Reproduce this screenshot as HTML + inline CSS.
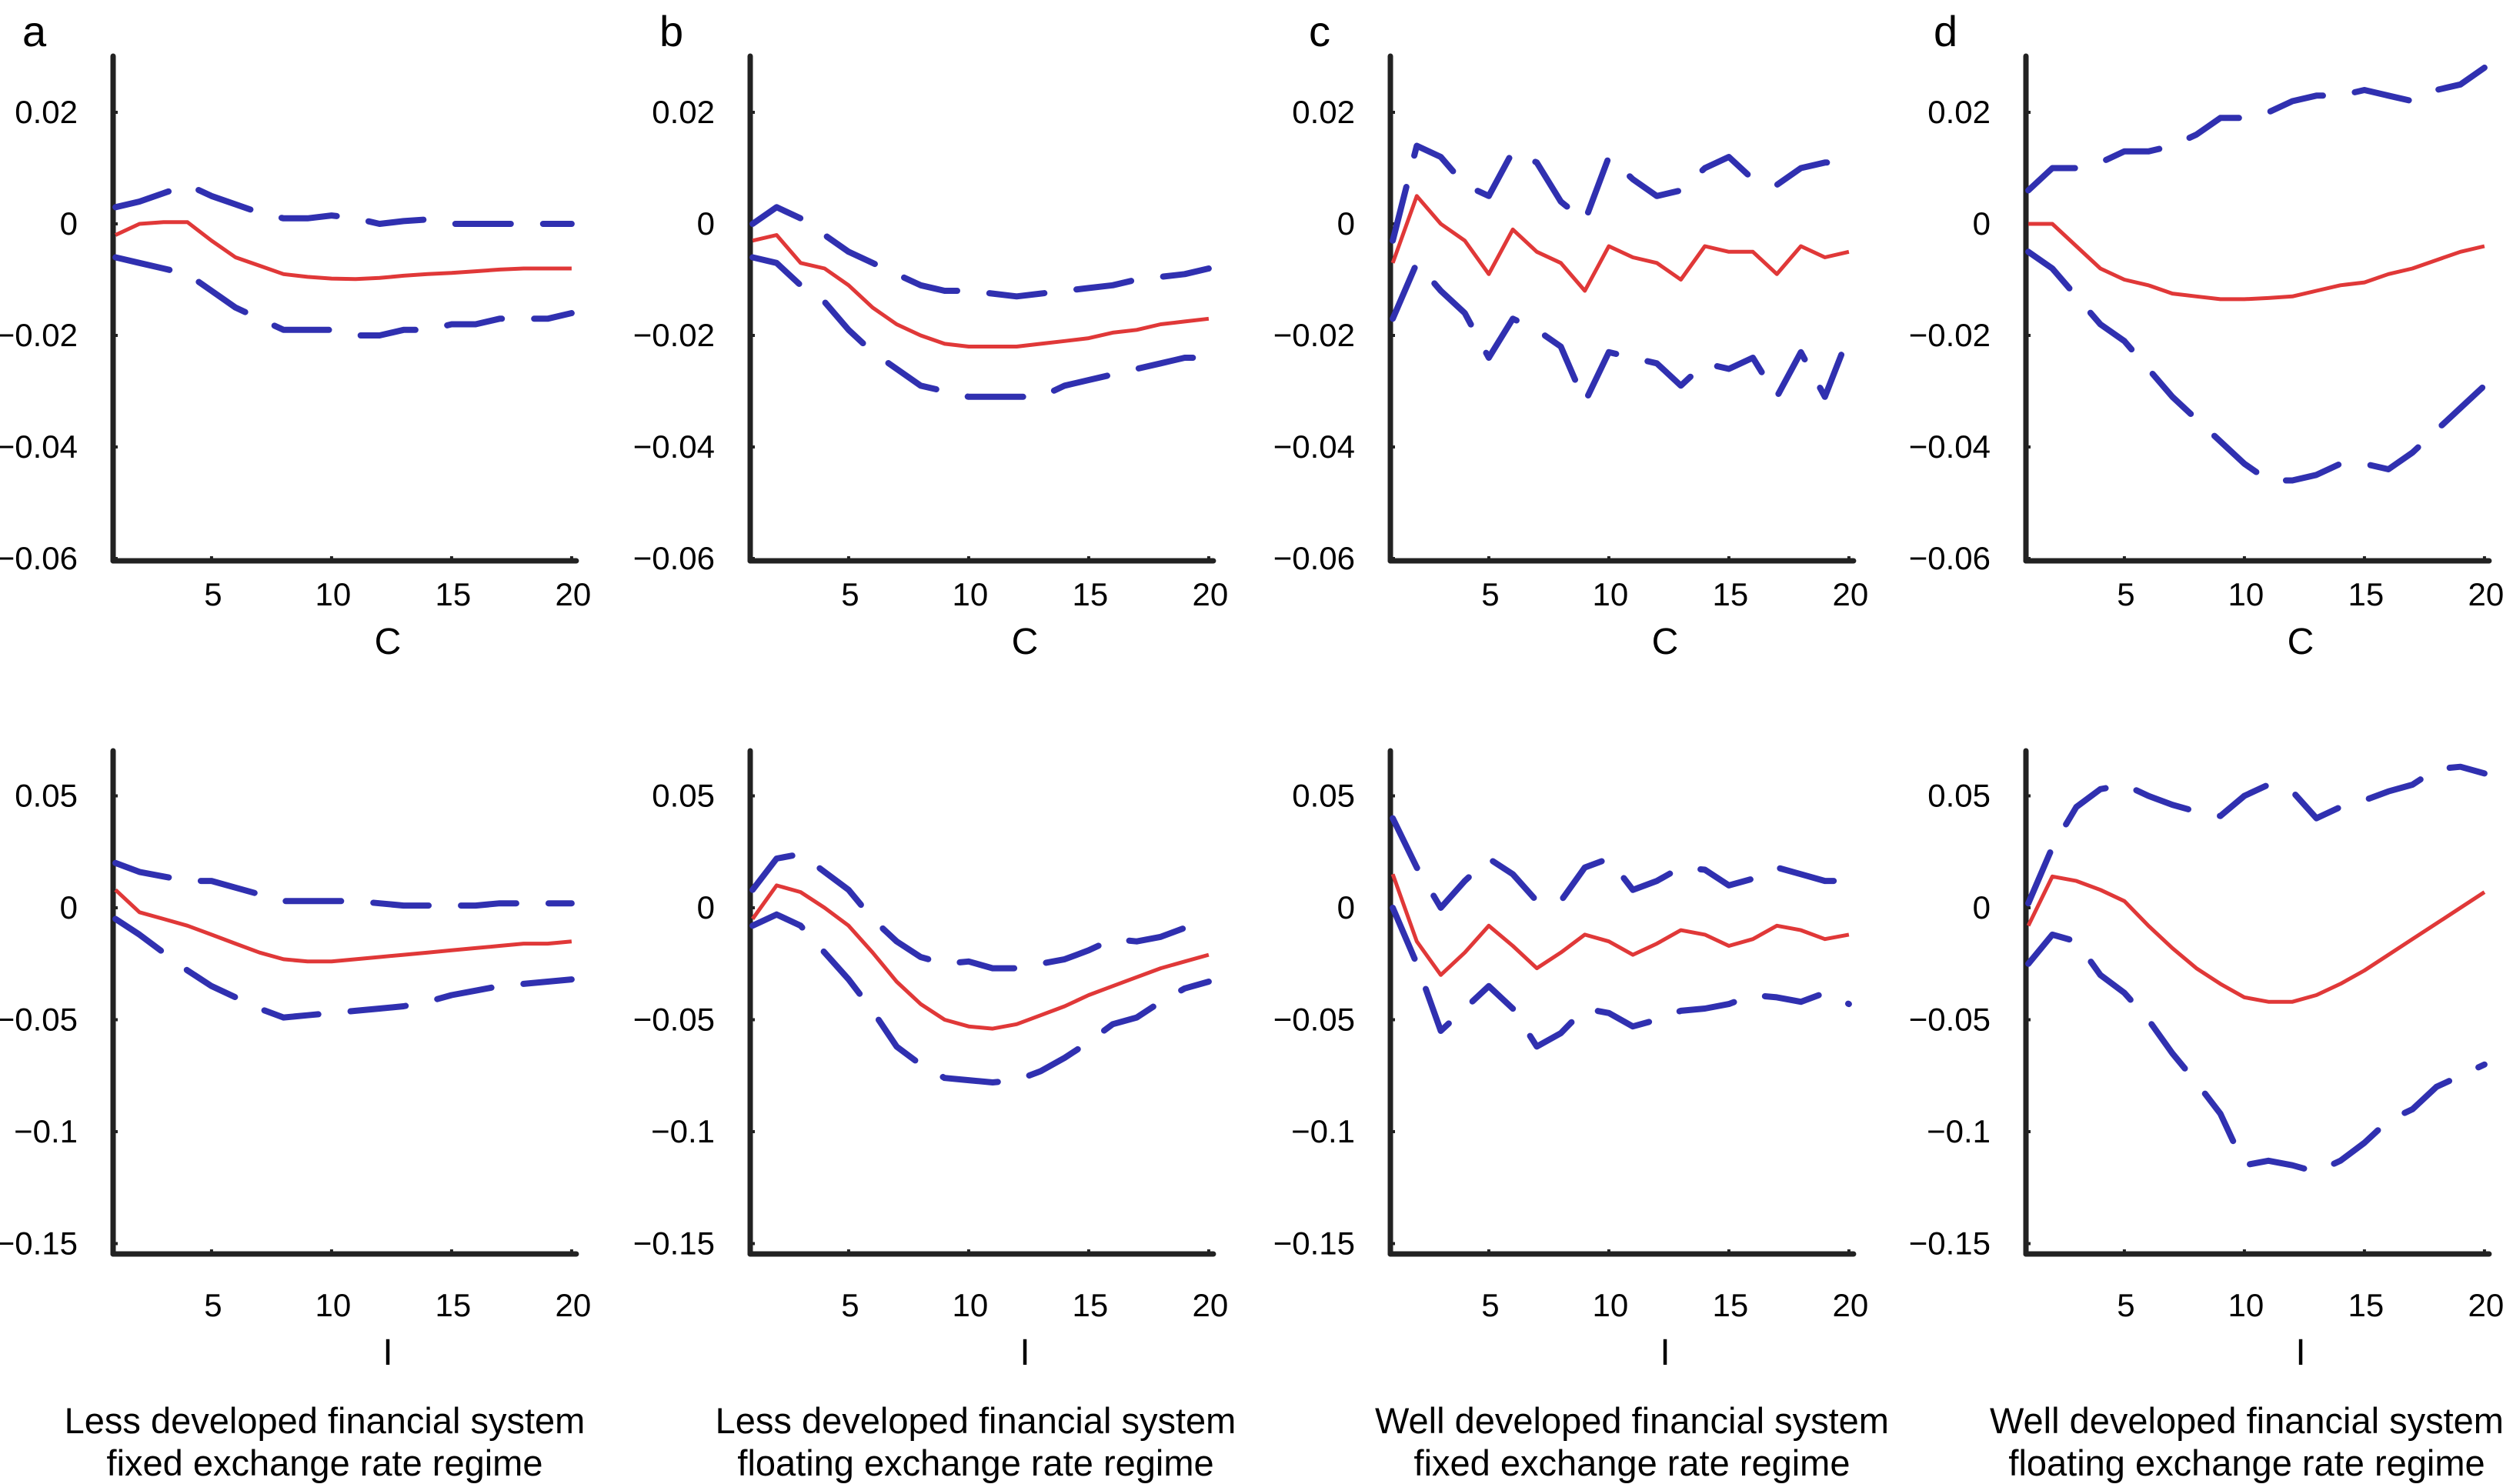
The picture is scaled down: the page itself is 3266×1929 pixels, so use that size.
<!DOCTYPE html>
<html><head><meta charset="utf-8"><style>
html,body{margin:0;padding:0;background:#fff;}
svg{display:block;font-family:"Liberation Sans",Arial,sans-serif;}
</style></head><body>
<svg id="fig" width="3266" height="1929" viewBox="0 0 3266 1929" xmlns="http://www.w3.org/2000/svg"></svg>
<script>
const periods = [1,2,3,4,5,6,7,8,9,10,11,12,13,14,15,16,17,18,19,20];
const xTicks = [5,10,15,20];
const yTicksC = [0.02,0,-0.02,-0.04,-0.06];
const yTickLabelsC = ["0.02","0","\u22120.02","\u22120.04","\u22120.06"];
const yTicksI = [0.05,0,-0.05,-0.1,-0.15];
const yTickLabelsI = ["0.05","0","\u22120.05","\u22120.1","\u22120.15"];
const panelLetters = ["a","b","c","d"];
const captionLine1 = ["Less developed financial system","Less developed financial system","Well developed financial system","Well developed financial system"];
const captionLine2 = ["fixed exchange rate regime","floating exchange rate regime","fixed exchange rate regime","floating exchange rate regime"];

// Consumption (C) responses
const aC_mid = [-0.002,0,0.0003,0.0003,-0.003,-0.006,-0.0075,-0.009,-0.0095,-0.0098,-0.0099,-0.0097,-0.0093,-0.009,-0.0088,-0.0085,-0.0082,-0.008,-0.008,-0.008];
const aC_up = [0.003,0.004,0.0055,0.007,0.005,0.0035,0.002,0.001,0.001,0.0015,0.001,0.0,0.0005,0.0008,0,0,0,0,0,0];
const aC_lo = [-0.006,-0.007,-0.008,-0.009,-0.012,-0.015,-0.017,-0.019,-0.019,-0.019,-0.02,-0.02,-0.019,-0.019,-0.018,-0.018,-0.017,-0.017,-0.017,-0.016];
const bC_mid = [-0.003,-0.002,-0.007,-0.008,-0.011,-0.015,-0.018,-0.02,-0.0215,-0.022,-0.022,-0.022,-0.0215,-0.021,-0.0205,-0.0195,-0.019,-0.018,-0.0175,-0.017];
const bC_up = [0,0.003,0.001,-0.002,-0.005,-0.007,-0.009,-0.011,-0.012,-0.012,-0.0125,-0.013,-0.0125,-0.012,-0.0115,-0.011,-0.01,-0.0095,-0.009,-0.008];
const bC_lo = [-0.006,-0.007,-0.011,-0.014,-0.019,-0.023,-0.026,-0.029,-0.03,-0.031,-0.031,-0.031,-0.031,-0.029,-0.028,-0.027,-0.026,-0.025,-0.024,-0.024];
const cC_mid = [-0.007,0.005,0,-0.003,-0.009,-0.001,-0.005,-0.007,-0.012,-0.004,-0.006,-0.007,-0.01,-0.004,-0.005,-0.005,-0.009,-0.004,-0.006,-0.005];
const cC_up = [-0.003,0.014,0.012,0.007,0.005,0.013,0.011,0.004,0.0005,0.012,0.008,0.005,0.006,0.01,0.012,0.008,0.007,0.01,0.011,0.011];
const cC_lo = [-0.017,-0.007,-0.012,-0.016,-0.024,-0.017,-0.019,-0.022,-0.032,-0.023,-0.024,-0.025,-0.029,-0.025,-0.026,-0.024,-0.031,-0.023,-0.031,-0.02];
const dC_mid = [0,0,-0.004,-0.008,-0.01,-0.011,-0.0125,-0.013,-0.0135,-0.0135,-0.0133,-0.013,-0.012,-0.011,-0.0105,-0.009,-0.008,-0.0065,-0.005,-0.004];
const dC_up = [0.006,0.01,0.01,0.011,0.013,0.013,0.014,0.016,0.019,0.019,0.02,0.022,0.023,0.023,0.024,0.023,0.022,0.024,0.025,0.028];
const dC_lo = [-0.005,-0.008,-0.013,-0.018,-0.021,-0.026,-0.031,-0.035,-0.039,-0.043,-0.046,-0.046,-0.045,-0.043,-0.043,-0.044,-0.041,-0.037,-0.033,-0.029];
// Investment (I) responses
const aI_mid = [0.008,-0.002,-0.005,-0.008,-0.012,-0.016,-0.02,-0.023,-0.024,-0.024,-0.023,-0.022,-0.021,-0.02,-0.019,-0.018,-0.017,-0.016,-0.016,-0.015];
const aI_up = [0.02,0.016,0.014,0.012,0.012,0.009,0.006,0.003,0.003,0.003,0.003,0.002,0.001,0.001,0.001,0.001,0.002,0.002,0.002,0.002];
const aI_lo = [-0.005,-0.012,-0.02,-0.028,-0.035,-0.04,-0.045,-0.049,-0.048,-0.047,-0.046,-0.045,-0.044,-0.042,-0.039,-0.037,-0.035,-0.034,-0.033,-0.032];
const bI_mid = [-0.005,0.01,0.007,0,-0.008,-0.02,-0.033,-0.043,-0.05,-0.053,-0.054,-0.052,-0.048,-0.044,-0.039,-0.035,-0.031,-0.027,-0.024,-0.021];
const bI_up = [0.008,0.022,0.024,0.016,0.008,-0.005,-0.015,-0.022,-0.025,-0.024,-0.027,-0.027,-0.025,-0.023,-0.019,-0.014,-0.015,-0.013,-0.009,-0.009];
const bI_lo = [-0.008,-0.003,-0.008,-0.02,-0.032,-0.046,-0.062,-0.07,-0.076,-0.077,-0.078,-0.077,-0.073,-0.067,-0.06,-0.052,-0.049,-0.042,-0.036,-0.033];
const cI_mid = [0.015,-0.015,-0.03,-0.02,-0.008,-0.017,-0.027,-0.02,-0.012,-0.015,-0.021,-0.016,-0.01,-0.012,-0.017,-0.014,-0.008,-0.01,-0.014,-0.012];
const cI_up = [0.04,0.018,0,0.012,0.022,0.015,0.003,0.003,0.018,0.022,0.008,0.012,0.018,0.017,0.01,0.013,0.018,0.015,0.012,0.012];
const cI_lo = [0.0,-0.025,-0.055,-0.045,-0.035,-0.045,-0.062,-0.056,-0.045,-0.047,-0.053,-0.05,-0.046,-0.045,-0.043,-0.039,-0.04,-0.042,-0.038,-0.043];
const dI_mid = [-0.008,0.014,0.012,0.008,0.003,-0.008,-0.018,-0.027,-0.034,-0.04,-0.042,-0.042,-0.039,-0.034,-0.028,-0.021,-0.014,-0.007,0,0.007];
const dI_up = [0.002,0.027,0.045,0.053,0.055,0.05,0.046,0.043,0.041,0.05,0.055,0.052,0.04,0.045,0.048,0.052,0.055,0.062,0.063,0.06];
const dI_lo = [-0.025,-0.012,-0.015,-0.03,-0.038,-0.05,-0.065,-0.078,-0.092,-0.115,-0.113,-0.115,-0.118,-0.113,-0.105,-0.095,-0.09,-0.08,-0.075,-0.07];

const NS = "http://www.w3.org/2000/svg";
const svg = document.getElementById("fig");
function mk(tag, attrs, parent){ const e=document.createElementNS(NS,tag); for(const k in attrs) e.setAttribute(k,attrs[k]); (parent||svg).appendChild(e); return e; }

const axisXs = [147,975,1807,2633];
const unitW = 31.2;
function xScale(ax, t){ return ax + (t-0.9)*unitW; }
const rows = [
  {kind:"C", top:73, base:729, zeroY:291, step:145, per:0.02, ticks:yTicksC, labels:yTickLabelsC, xlabY:787, titleY:850,
   series:[[aC_mid,aC_up,aC_lo],[bC_mid,bC_up,bC_lo],[cC_mid,cC_up,cC_lo],[dC_mid,dC_up,dC_lo]]},
  {kind:"I", top:976, base:1630, zeroY:1180, step:145.5, per:0.05, ticks:yTicksI, labels:yTickLabelsI, xlabY:1711, titleY:1774,
   series:[[aI_mid,aI_up,aI_lo],[bI_mid,bI_up,bI_lo],[cI_mid,cI_up,cI_lo],[dI_mid,dI_up,dI_lo]]}
];
const capOffsets = [275,293,314,287];

panelLetters.forEach((L,p)=>{
  const ax = axisXs[p];
  const lt = mk("text",{x:ax-118+(p===2?12:0)+(p===3?-2:0), y:60, "font-size":56});
  
  
  lt.textContent = L;
  rows.forEach(r=>{
    const g = mk("g",{});
    
    
    const yS = v => r.zeroY - v/r.per*r.step;
    r.ticks.forEach((t,i)=>{
      const tx = mk("text",{x:ax-46, y:yS(t)+14, "font-size":42, "text-anchor":"end"}, g);
      
      
      tx.textContent = r.labels[i];
      mk("line",{x1:ax,x2:ax+6,y1:yS(t),y2:yS(t),stroke:"#222","stroke-width":4},g);
    });
    xTicks.forEach(t=>{
      const tx = mk("text",{x:xScale(ax,t)+2, y:r.xlabY, "font-size":42, "text-anchor":"middle"}, g);
      
      
      tx.textContent = String(t);
      mk("line",{x1:xScale(ax,t),x2:xScale(ax,t),y1:r.base,y2:r.base-6,stroke:"#222","stroke-width":4},g);
    });
    const xl = mk("text",{x:ax+357, y:r.titleY, "font-size":48, "text-anchor":"middle"}, g);
    
    
    xl.textContent = r.kind;
    const yAxis = mk("line",{x1:ax,x2:ax,y1:r.top,y2:r.base,stroke:"#222","stroke-width":7,"stroke-linecap":"round"},g);
    
    
    const xAxis = mk("line",{x1:ax,x2:xScale(ax,20)+6,y1:r.base,y2:r.base,stroke:"#222","stroke-width":7,"stroke-linecap":"round"},g);
    
    
    const [mid,up,lo] = r.series[p];
    const pts = arr => arr.map((v,i)=>xScale(ax,periods[i]).toFixed(1)+","+yS(v).toFixed(1)).join(" ");
    [up,lo].forEach((arr,k)=>{
      const pl = mk("polyline",{points:pts(arr),fill:"none",stroke:"#3030b0","stroke-width":8,"stroke-dasharray":"72 42","stroke-linejoin":"round","stroke-linecap":"round"},g);
      
      
    });
    const ml = mk("polyline",{points:pts(mid),fill:"none",stroke:"#e03838","stroke-width":5,"stroke-linejoin":"round"},g);
    
    
  });
  const c1 = mk("text",{x:ax+capOffsets[p], y:1863, "font-size":47, "text-anchor":"middle"});
  
  
  c1.textContent = captionLine1[p];
  const c2 = mk("text",{x:ax+capOffsets[p], y:1918, "font-size":47, "text-anchor":"middle"});
  
  
  c2.textContent = captionLine2[p];
});
</script>
</body></html>
